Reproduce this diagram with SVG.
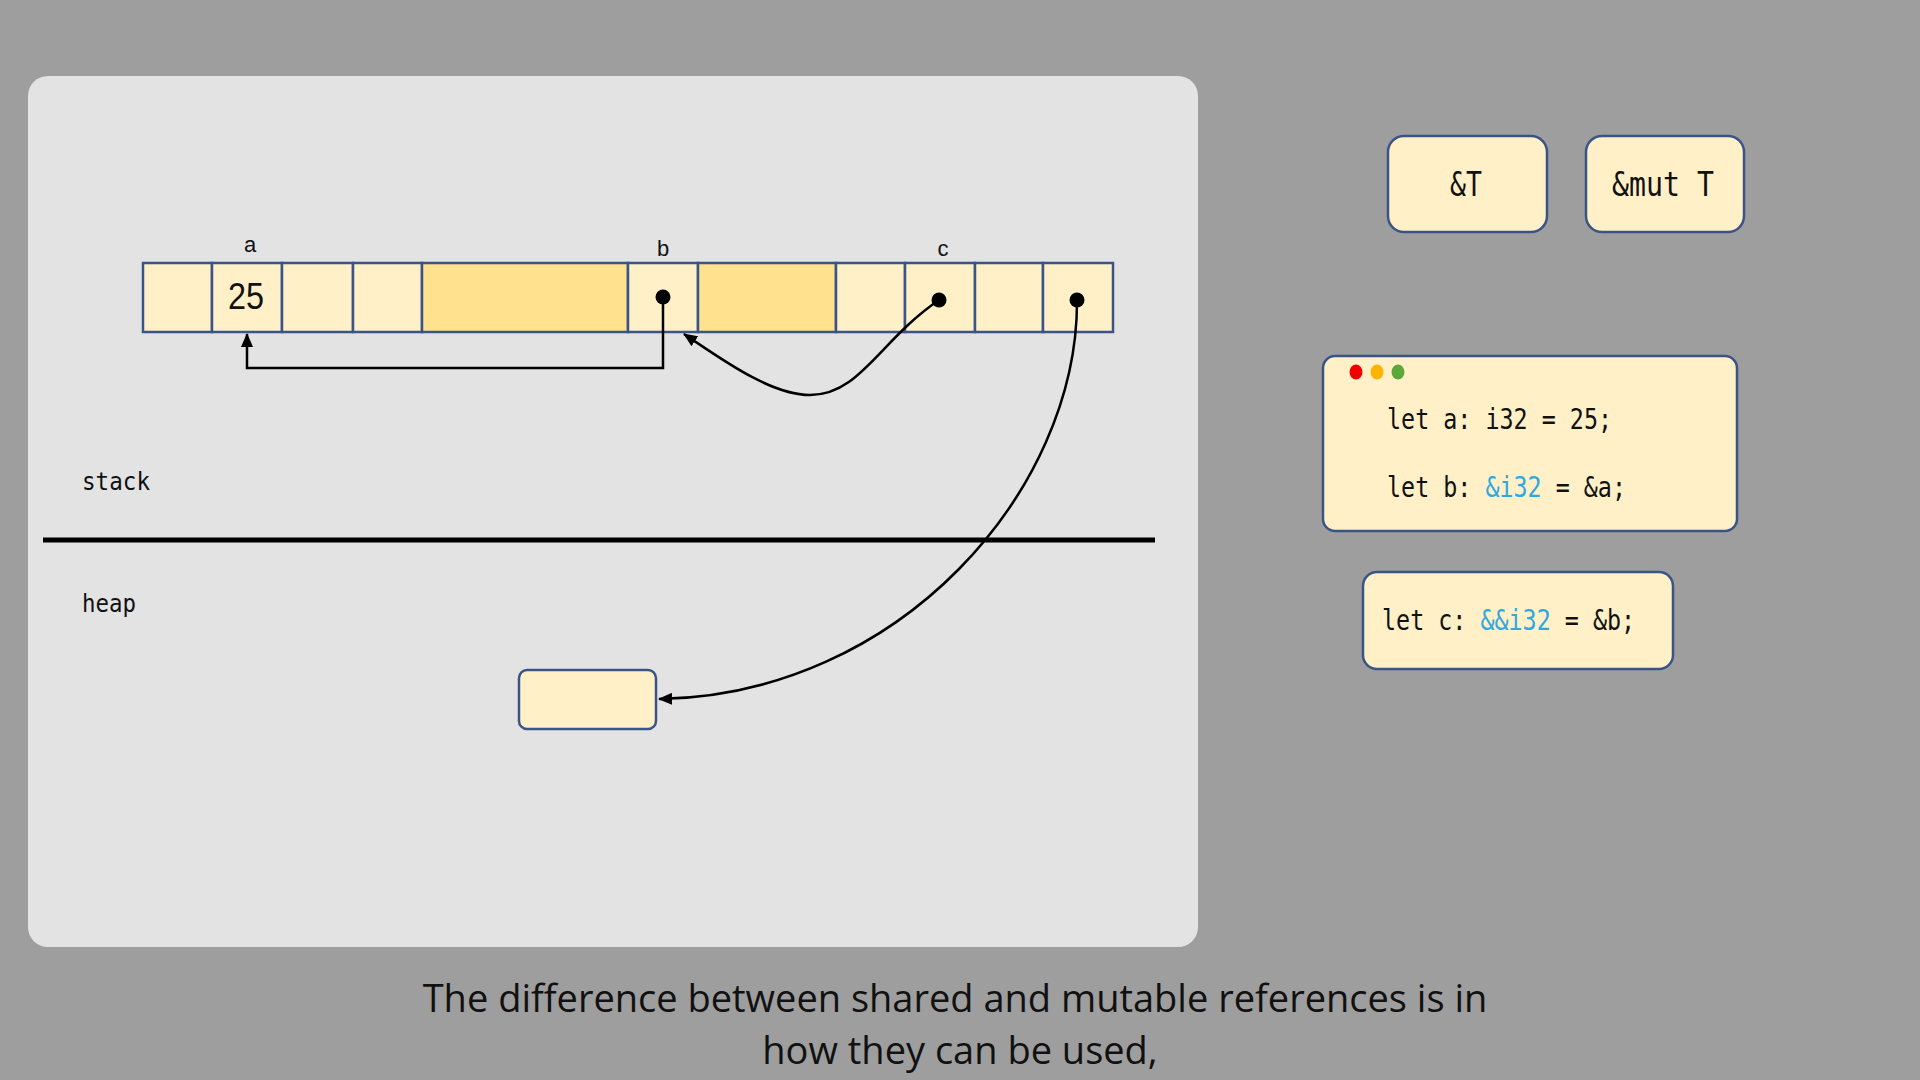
<svg xmlns="http://www.w3.org/2000/svg" width="1920" height="1080" viewBox="0 0 1920 1080">
  <style>
    .cell { stroke: #3b5488; stroke-width: 2.5; }
    .lt { fill: #fff0c8; }
    .dk { fill: #ffe18e; }
    .box { fill: #fff0c8; stroke: #3b5488; stroke-width: 2.5; }
    .mono { font-family: "DejaVu Sans Mono", "Liberation Mono", monospace; fill: #111; }
    .sans { font-family: "Liberation Sans", Arial, sans-serif; fill: #111; }
    .kw { fill: #2ea8e0; }
    .conn { fill: none; stroke: #000; stroke-width: 2.5; }
    .dot { fill: #000; }
    .sub { font-family: "Open Sans", "Noto Sans", sans-serif; font-size: 38px; fill: #111; }
  </style>
  <defs>
    <marker id="arr" markerUnits="userSpaceOnUse" markerWidth="14" markerHeight="12" refX="13" refY="6" orient="auto">
      <path d="M0,0 L14,6 L0,12 z" fill="#000"/>
    </marker>
  </defs>

  <rect width="1920" height="1080" fill="#9e9e9e"/>
  <rect id="panel" x="28" y="76" width="1170" height="871" rx="20" fill="#e3e3e3"/>

  <g id="memory-row">
    <rect class="cell lt" x="143" y="263" width="69" height="69"/>
    <rect class="cell lt" x="212" y="263" width="70" height="69"/>
    <rect class="cell lt" x="282" y="263" width="71" height="69"/>
    <rect class="cell lt" x="353" y="263" width="69" height="69"/>
    <rect class="cell dk" x="422" y="263" width="206" height="69"/>
    <rect class="cell lt" x="628" y="263" width="70" height="69"/>
    <rect class="cell dk" x="698" y="263" width="138" height="69"/>
    <rect class="cell lt" x="836" y="263" width="69" height="69"/>
    <rect class="cell lt" x="905" y="263" width="70" height="69"/>
    <rect class="cell lt" x="975" y="263" width="68" height="69"/>
    <rect class="cell lt" x="1043" y="263" width="70" height="69"/>
  </g>

  <g id="var-a">
    <text class="sans" x="250" y="252" font-size="22" text-anchor="middle">a</text>
    <text class="sans" x="246" y="309" font-size="36" text-anchor="middle" textLength="36" lengthAdjust="spacingAndGlyphs">25</text>
  </g>
  <g id="var-b">
    <text class="sans" x="663" y="256" font-size="22" text-anchor="middle">b</text>
  </g>
  <g id="var-c">
    <text class="sans" x="943" y="256" font-size="22" text-anchor="middle">c</text>
  </g>

  <g id="stack-label">
    <text class="mono" x="82" y="490" font-size="25" textLength="68" lengthAdjust="spacingAndGlyphs">stack</text>
  </g>
  <line id="divider" x1="43" y1="540" x2="1155" y2="540" stroke="#000" stroke-width="5"/>
  <g id="heap-label">
    <text class="mono" x="82" y="612" font-size="25" textLength="54" lengthAdjust="spacingAndGlyphs">heap</text>
  </g>

  <g id="heap-box">
    <rect class="box" x="519" y="670" width="137" height="59" rx="8"/>
  </g>

  <g id="connectors">
    <path class="conn" d="M663,297 V368 H247 V334" marker-end="url(#arr)"/>
    <path class="conn" d="M939,300 C880,340 860,395 810,395 C770,395 720,358 684,334" marker-end="url(#arr)"/>
    <path class="conn" d="M1077,300 C1078,490 900,695 659,699" marker-end="url(#arr)"/>
    <circle class="dot" cx="663" cy="297" r="7.5"/>
    <circle class="dot" cx="939" cy="300" r="7.5"/>
    <circle class="dot" cx="1077" cy="300" r="7.5"/>
  </g>

  <g id="ref-shared">
    <rect class="box" x="1388" y="136" width="159" height="96" rx="16"/>
    <text class="mono" x="1466" y="196" font-size="33" text-anchor="middle" textLength="32" lengthAdjust="spacingAndGlyphs">&amp;T</text>
  </g>
  <g id="ref-mut">
    <rect class="box" x="1586" y="136" width="158" height="96" rx="16"/>
    <text class="mono" x="1663" y="196" font-size="33" text-anchor="middle" textLength="102" lengthAdjust="spacingAndGlyphs">&amp;mut T</text>
  </g>

  <g id="code-window">
    <rect class="box" x="1323" y="356" width="414" height="175" rx="12"/>
    <ellipse cx="1356" cy="372" rx="6.5" ry="7.5" fill="#f00000"/>
    <ellipse cx="1377" cy="372" rx="6.5" ry="7.5" fill="#fbb400"/>
    <ellipse cx="1398" cy="372" rx="6.5" ry="7.5" fill="#5ea83a"/>
    <text class="mono" x="1387" y="429" font-size="28" textLength="225" lengthAdjust="spacingAndGlyphs">let a: i32 = 25;</text>
    <text class="mono" x="1387" y="497" font-size="28" textLength="84.4" lengthAdjust="spacingAndGlyphs">let b:</text>
    <text class="mono kw" x="1485.4" y="497" font-size="28" textLength="56.2" lengthAdjust="spacingAndGlyphs">&amp;i32</text>
    <text class="mono" x="1555.7" y="497" font-size="28" textLength="70.3" lengthAdjust="spacingAndGlyphs">= &amp;a;</text>
  </g>

  <g id="code-c">
    <rect class="box" x="1363" y="572" width="310" height="97" rx="14"/>
    <text class="mono" x="1382" y="630" font-size="28" textLength="84.4" lengthAdjust="spacingAndGlyphs">let c:</text>
    <text class="mono kw" x="1480.4" y="630" font-size="28" textLength="70.3" lengthAdjust="spacingAndGlyphs">&amp;&amp;i32</text>
    <text class="mono" x="1564.8" y="630" font-size="28" textLength="70.3" lengthAdjust="spacingAndGlyphs">= &amp;b;</text>
  </g>

  <g id="subtitle">
    <text class="sub" x="955" y="1012" text-anchor="middle">The difference between shared and mutable references is in</text>
    <text class="sub" x="960" y="1064" text-anchor="middle">how they can be used,</text>
  </g>
</svg>
